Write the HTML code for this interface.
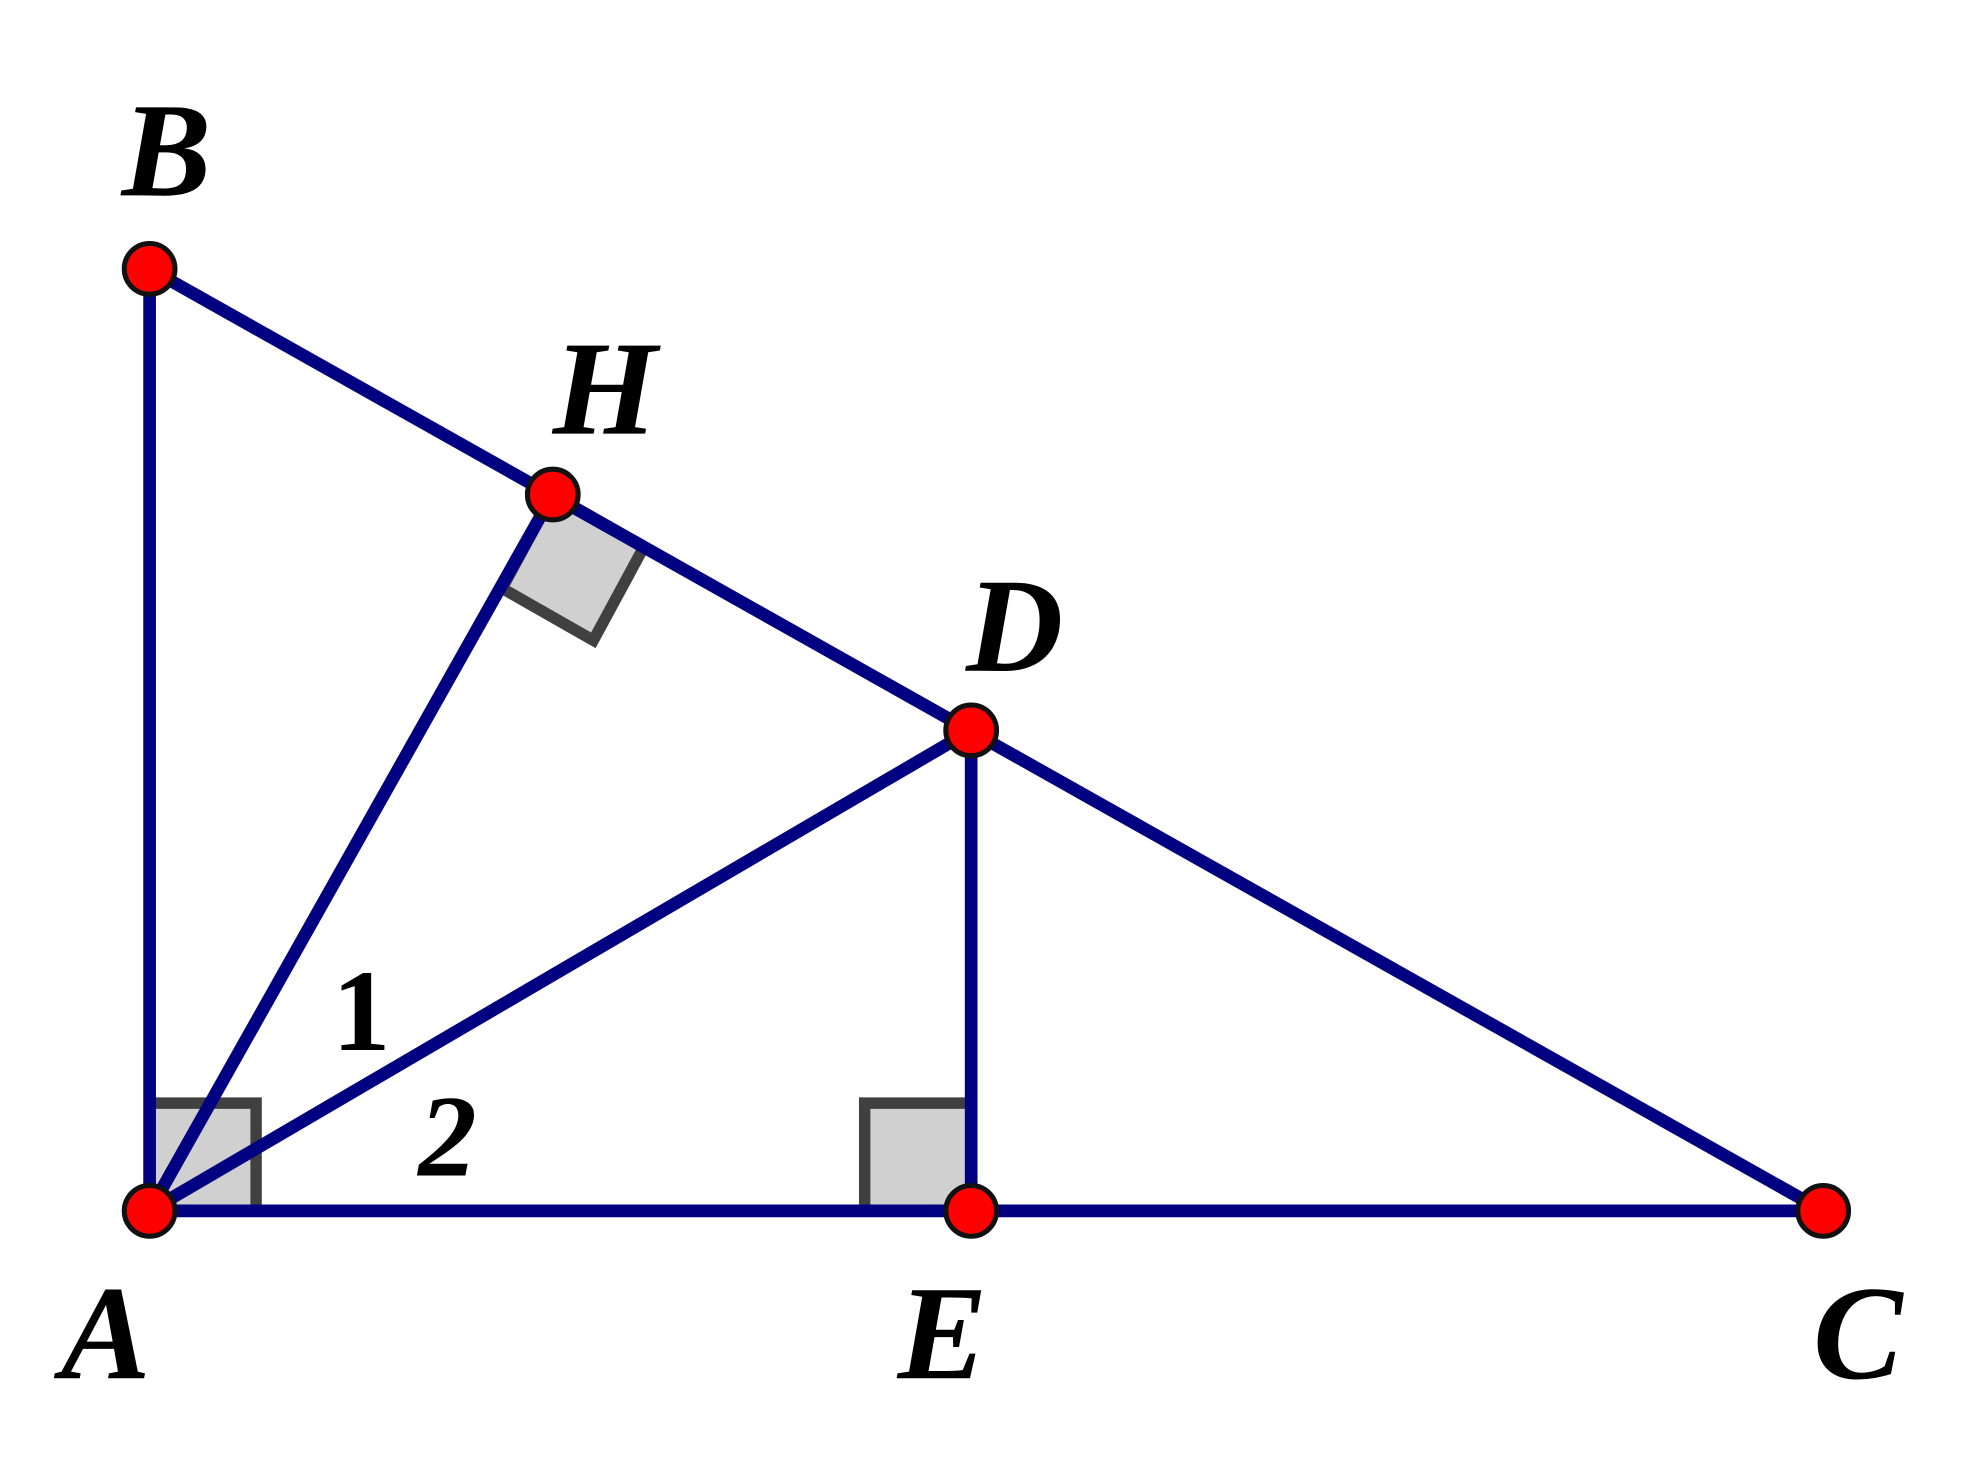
<!DOCTYPE html>
<html><head><meta charset="utf-8"><style>
html,body{margin:0;padding:0;background:#fff;}
svg{display:block;}
text{font-family:"Liberation Serif",serif;font-weight:bold;}
</style></head><body>
<svg width="1988" height="1481" viewBox="0 0 1568 1168" xmlns="http://www.w3.org/2000/svg">
<rect width="1568" height="1168" fill="#fff"/>
<!-- right angle marks -->
<polygon points="118,870 202,870 202,955 118,955" fill="#d0d0d0" stroke="#404040" stroke-width="9"/>
<polygon points="682,870 766,870 766,955 682,955" fill="#d0d0d0" stroke="#404040" stroke-width="9"/>
<polygon points="436,390 508,431 468,505 396,464" fill="#d0d0d0" stroke="#404040" stroke-width="9"/>
<!-- lines -->
<g stroke="#000080" stroke-width="10" stroke-linecap="round" fill="none">
<line x1="118" y1="212" x2="118" y2="955"/>
<line x1="118" y1="955" x2="1438" y2="955"/>
<line x1="118" y1="212" x2="1438" y2="955"/>
<line x1="118" y1="955" x2="436" y2="390"/>
<line x1="118" y1="955" x2="766" y2="576"/>
<line x1="766" y1="576" x2="766" y2="955"/>
</g>
<!-- points -->
<g fill="#ff0000" stroke="#111" stroke-width="4">
<circle cx="118" cy="212" r="20"/>
<circle cx="436" cy="390" r="20"/>
<circle cx="766" cy="576" r="20"/>
<circle cx="118" cy="955" r="20"/>
<circle cx="766" cy="955" r="20"/>
<circle cx="1438" cy="955" r="20"/>
</g>
<!-- labels -->
<g font-style="italic" font-size="106" fill="#000">
<text x="96" y="154">B</text>
<text x="436" y="342">H</text>
<text x="762" y="529">D</text>
<text x="48" y="1087">A</text>
<text x="708" y="1087">E</text>
<text x="1430" y="1087">C</text>
</g>
<text x="262" y="828" font-size="92" fill="#000">1</text>
<text x="330" y="927" font-size="92" font-style="italic" fill="#000">2</text>
</svg>
</body></html>
